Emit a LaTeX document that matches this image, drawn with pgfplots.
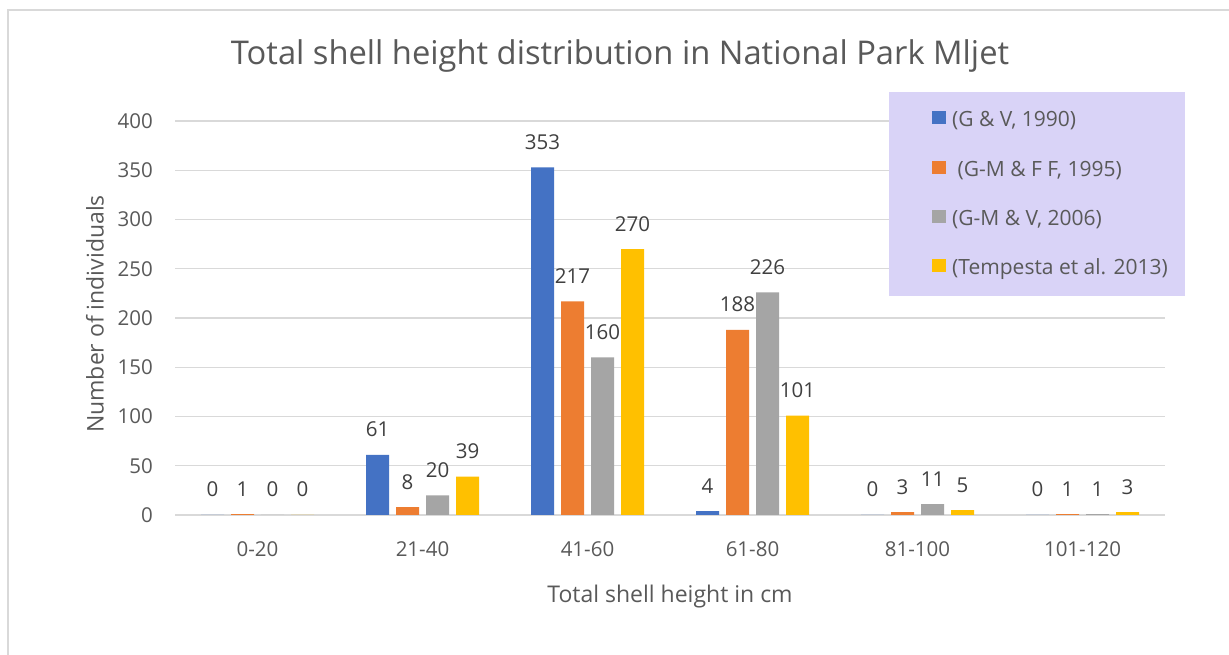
\documentclass[border=0pt]{standalone}
\usepackage{fontspec}
\setmainfont{Open Sans}
\usepackage{pgfplots}
\pgfplotsset{compat=1.18}
\definecolor{cblue}{HTML}{4472C4}
\definecolor{corange}{HTML}{ED7D31}
\definecolor{cgray}{HTML}{A5A5A5}
\definecolor{cyellow}{HTML}{FFC000}
\definecolor{gridc}{HTML}{D9D9D9}
\definecolor{txt}{HTML}{595959}
\definecolor{lbl}{HTML}{404040}
\definecolor{lav}{HTML}{D9D3F7}
\begin{document}
\begin{tikzpicture}
\useasboundingbox (0,0) rectangle (1229pt,655pt);
\fill[white] (0,0) rectangle (1229pt,655pt);
\draw[gridc, line width=1.2pt] (8pt,0) -- (8pt,645pt) -- (1229pt,645pt);
\node[text=txt, font=\fontsize{32.7}{38}\selectfont] at (620pt,599pt) {Total shell height distribution in National Park Mljet};
\begin{axis}[
  at={(175pt,140pt)}, anchor=south west,
  scale only axis, width=990pt, height=394pt,
  xmin=-0.5, xmax=5.5, ymin=0, ymax=400,
  ytick={0,50,...,400},
  xtick={0,...,5},
  xticklabels={0-20,21-40,41-60,61-80,81-100,101-120},
  axis line style={draw=none},
  tick style={draw=none},
  ymajorgrids,
  grid style={draw=gridc, line width=1.3pt},
  ybar=7pt, bar width=23pt,
  clip=false,
  /pgf/number format/assume math mode=true,
  ticklabel style={text=txt, font=\fontsize{20.5}{24}\selectfont},
  yticklabel style={anchor=east, inner sep=0pt, xshift=-22pt},
  xticklabel style={anchor=north, inner sep=0pt, yshift=-22.5pt},
  xlabel={Total shell height in cm},
  xlabel style={at={([yshift=-82pt]axis description cs:0.5,0)}, anchor=center, text=txt, font=\fontsize{23}{27}\selectfont},
  ylabel={Number of individuals},
  ylabel style={at={([xshift=-80pt,yshift=4pt]axis description cs:0,0.5)}, anchor=center, text=txt, font=\fontsize{23}{27}\selectfont},
  nodes near coords,
  every node near coord/.append style={anchor=base, inner sep=0pt, yshift=18pt, text=lbl, font=\fontsize{20.5}{24}\selectfont},
  legend cell align=left,
  legend image code/.code={\fill[#1,draw=none] (0pt,-3pt) rectangle (14pt,10pt);},
  legend style={at={(rel axis cs:0.7646,1.0263)}, anchor=north west, draw=none, fill=none, inner sep=0pt,
    row sep=28.2pt, column sep=6pt, text=txt, font=\fontsize{21}{24}\selectfont,
    nodes={inner sep=0pt, text height=16pt, text depth=5pt}},
]
\addplot[fill=cblue, draw=none] coordinates {(0,0) (1,61) (2,353) (3,4) (4,0) (5,0)};
\addplot[fill=corange, draw=none] coordinates {(0,1) (1,8) (2,217) (3,188) (4,3) (5,1)};
\addplot[fill=cgray, draw=none] coordinates {(0,0) (1,20) (2,160) (3,226) (4,11) (5,1)};
\addplot[fill=cyellow, draw=none] coordinates {(0,0) (1,39) (2,270) (3,101) (4,5) (5,3)};
\fill[lav] (rel axis cs:0.7212,1.0736) rectangle (rel axis cs:1.0202,0.5558);
\legend{(G \& V{,} 1990), \ (G-M \& F F{,} 1995), (G-M \& V{,} 2006), (Tempesta et al. 2013)}
\end{axis}
\end{tikzpicture}
\end{document}
